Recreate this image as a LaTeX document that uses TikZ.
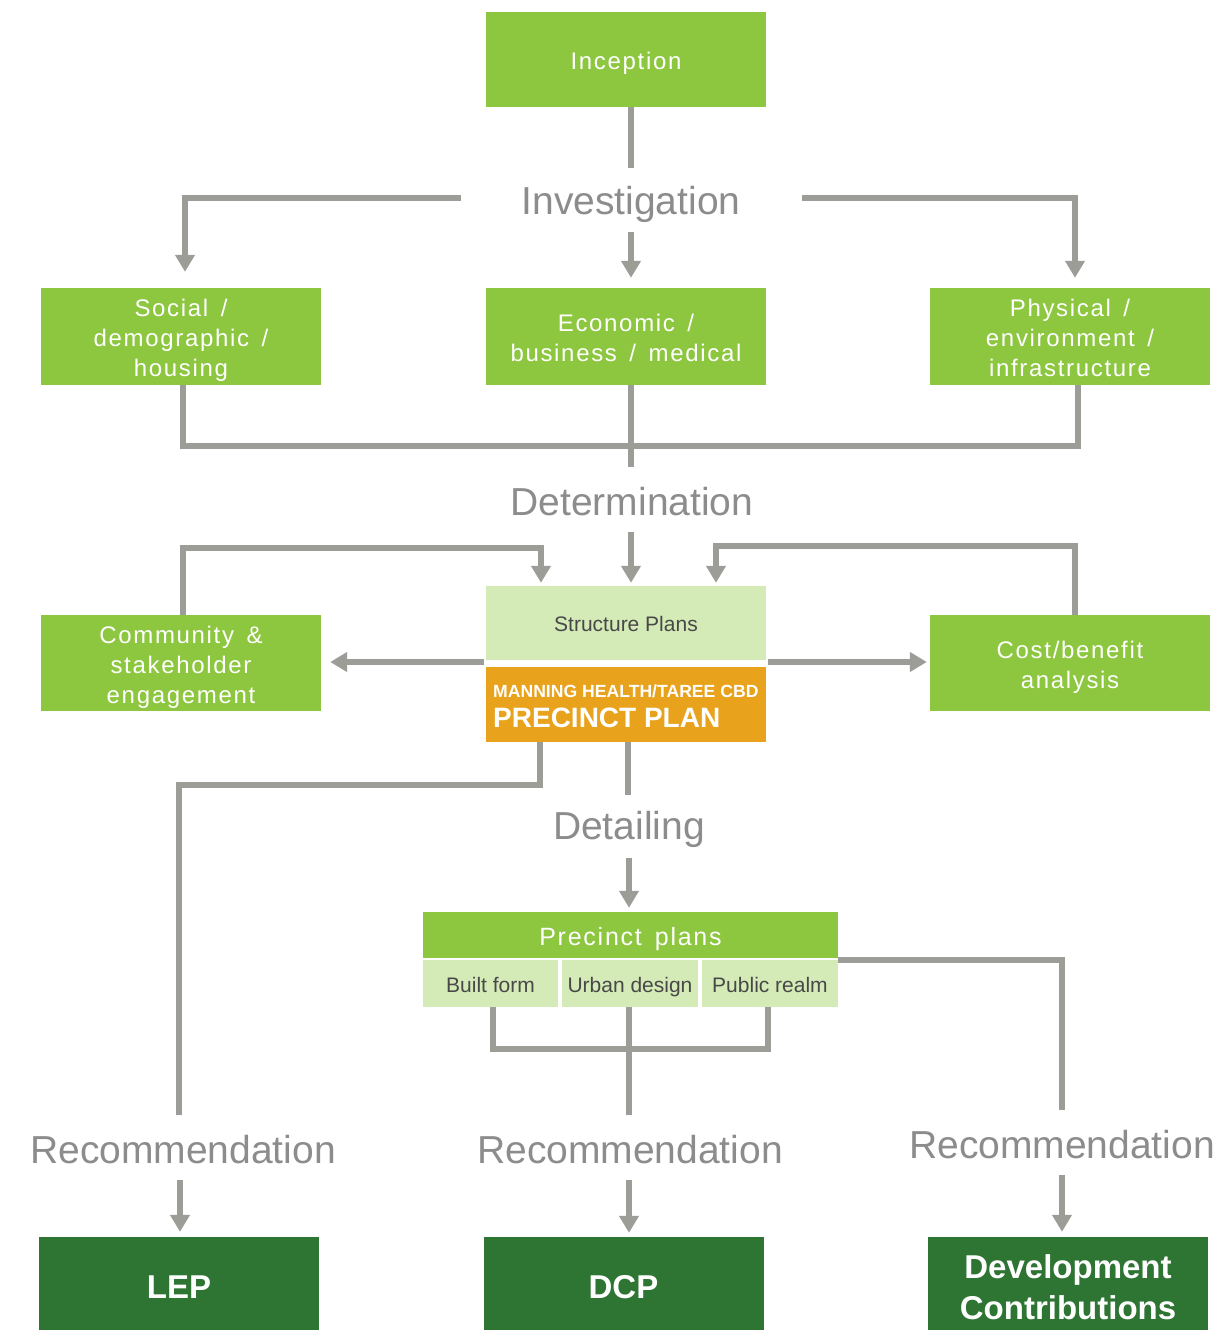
\documentclass[tikz,border=0pt]{standalone}
\usepackage{fontspec}
\setmainfont{Liberation Sans}
\newfontfamily\boxfam[LetterSpace=7,WordSpace=1.5]{Liberation Sans}
\usetikzlibrary{arrows.meta}
\definecolor{lime}{RGB}{141,198,63}
\definecolor{pale}{RGB}{212,235,183}
\definecolor{orng}{RGB}{233,162,27}
\definecolor{dgreen}{RGB}{46,117,51}
\definecolor{linegray}{RGB}{157,157,152}
\definecolor{stagegray}{RGB}{140,140,140}
\definecolor{darktext}{RGB}{72,72,72}
\begin{document}
\begin{tikzpicture}[x=1pt,y=-1pt,
 greenbox/.style={fill=lime,text=white,minimum width=280,minimum height=97,inner sep=0,align=center,text height=20,text depth=0,font=\boxfam\fontsize{24}{30}\selectfont},
 palebox/.style={fill=pale,text=darktext,inner sep=0,text height=17,text depth=0,font=\fontsize{21}{25}\selectfont},
 finalbox/.style={fill=dgreen,text=white,minimum width=280,minimum height=100,inner sep=0,align=center,font=\bfseries\fontsize{33}{41}\selectfont},
 stage/.style={text=stagegray,inner sep=0,font=\fontsize{39}{45}\selectfont},
 conn/.style={draw=linegray,line width=6},
 arr/.style={conn,-{Triangle[width=19pt,length=17pt]}},
]
\useasboundingbox (0,0) rectangle (1224,1330);
\fill[white] (0,0) rectangle (1224,1330);

% nodes
\node[greenbox,minimum height=95] (inc) at (626,59.5) {Inception};
\node[stage] (inv) at (631,204) {Investigation};
\node[greenbox,text height=80] (soc) at (181,336.5) {Social /\\demographic /\\housing};
\node[greenbox,text height=50] (eco) at (626,336.5) {Economic /\\business / medical};
\node[greenbox,text height=80] (phy) at (1070,336.5) {Physical /\\environment /\\infrastructure};
\node[stage] (det) at (632,502) {Determination};
\node[palebox,minimum width=280,minimum height=74] (sp) at (626,623) {Structure Plans};
\node[fill=orng,minimum width=280,minimum height=75,inner sep=0] (pp) at (626,704.5) {};
\node[text=white,anchor=base west,inner sep=0,font=\bfseries\fontsize{17.6}{20}\selectfont] (ppa) at (493,697) {MANNING HEALTH/TAREE CBD};
\node[text=white,anchor=base west,inner sep=0,font=\bfseries\fontsize{28}{32}\selectfont] (ppb) at (493,727) {PRECINCT PLAN};
\node[greenbox,minimum height=96,text height=80] (com) at (181,663) {Community \&\\stakeholder\\engagement};
\node[greenbox,minimum height=96,text height=50] (cost) at (1070,663) {Cost/benefit\\analysis};
\node[stage] (dtl) at (629,829) {Detailing};
\node[greenbox,minimum width=415,minimum height=46,font=\boxfam\fontsize{25}{30}\selectfont] (ppl) at (630.5,935) {Precinct plans};
\node[palebox,minimum width=135,minimum height=47] (bf) at (490.5,983.5) {Built form};
\node[palebox,minimum width=136,minimum height=47] (ud) at (630,983.5) {Urban design};
\node[palebox,minimum width=136,minimum height=47] (pr) at (770,983.5) {Public realm};
\node[stage] (recL) at (183,1150) {Recommendation};
\node[stage] (recM) at (630,1150) {Recommendation};
\node[stage] (recR) at (1062,1145) {Recommendation};
\node[finalbox] (lep) at (179,1287) {LEP};
\node[finalbox] (dcp) at (623.5,1287) {DCP};
\node[finalbox] (dc) at (1068,1287) {Development\\Contributions};

% connectors
\coordinate (invT) at (631,168);
\coordinate (invB) at (631,232);
\coordinate (invL) at (461,198);
\coordinate (invR) at (802,198);
\draw[conn] (inc.south -| invT) -- (invT);
\draw[arr,shorten >=10] (invB) -- (invB |- eco.north);
\draw[arr,shorten >=16] (invL) -| ([xshift=4]soc.north);
\draw[arr,shorten >=10] (invR) -| ([xshift=5]phy.north);

\coordinate (detJ) at (631,446);
\coordinate (detT) at (631,467);
\draw[conn] ([xshift=2]soc.south) |- (detJ) -| ([xshift=8]phy.south);
\draw[conn] (eco.south -| detT) -- (detT);
\coordinate (detB) at (631,532);
\draw[arr,shorten >=3] (detB) -- (detB |- sp.north);
\draw[arr,shorten >=3] ([xshift=2]com.north) -- ++(0,-67) -| ([xshift=-85]sp.north);
\draw[arr,shorten >=3] ([xshift=5]cost.north) -- ++(0,-69) -| ([xshift=90]sp.north);
\coordinate (spL) at (484,662);
\coordinate (spR) at (768,662);
\draw[arr,shorten >=9] (spL) -- (spL -| com.east);
\draw[arr,shorten >=3] (spR) -- (spR -| cost.west);

\coordinate (recLT) at (179,1115);
\draw[conn] ([xshift=-86]pp.south) -- ++(0,43) -| (recLT);
\coordinate (dtlT) at (628,795);
\draw[conn] (pp.south -| dtlT) -- (dtlT);
\coordinate (dtlB) at (629,858);
\draw[arr,shorten >=4] (dtlB) -- (dtlB |- ppl.north);

\coordinate (recMT) at (629,1115);
\draw[conn] ([xshift=2]bf.south) -- ++(0,42) -| ([xshift=-2]pr.south);
\draw[conn] (ud.south -| recMT) -- (recMT);
\coordinate (recRT) at (1062,1110);
\draw[conn] ([yshift=-2]ppl.south east) -| (recRT);

\coordinate (recLB) at (180,1180);
\coordinate (recMB) at (629,1180);
\coordinate (recRB) at (1062,1175);
\draw[arr,shorten >=5] (recLB) -- (recLB |- lep.north);
\draw[arr,shorten >=4] (recMB) -- (recMB |- dcp.north);
\draw[arr,shorten >=5] (recRB) -- (recRB |- dc.north);
\end{tikzpicture}
\end{document}
